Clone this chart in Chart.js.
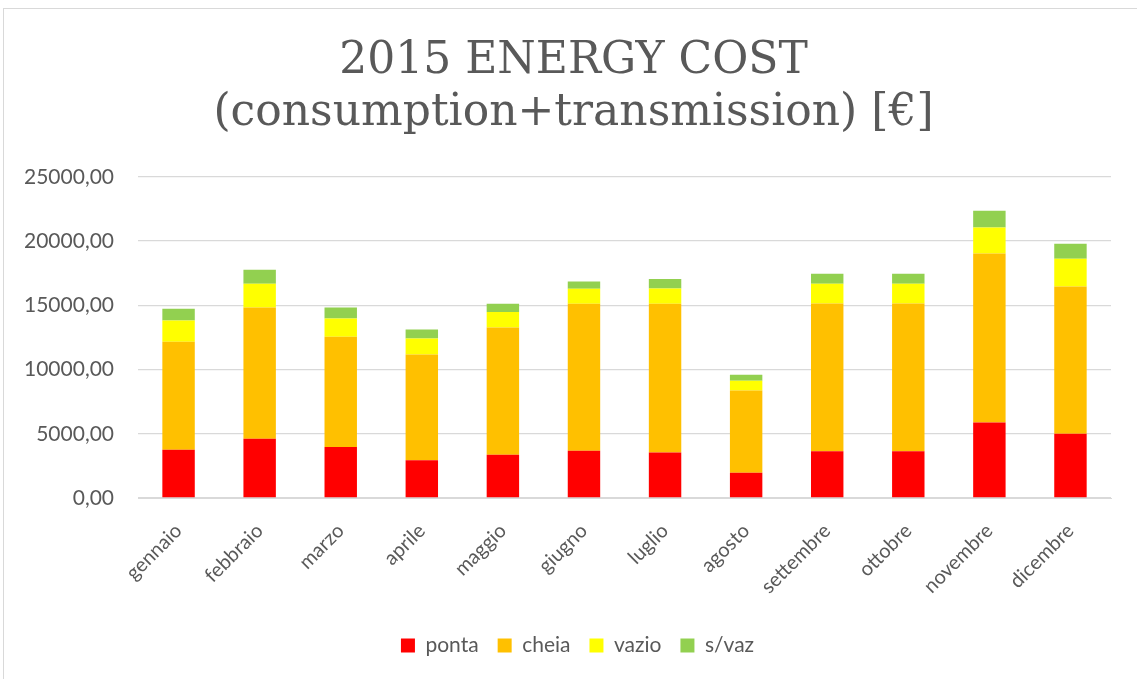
<!DOCTYPE html>
<html>
<head>
<meta charset="utf-8">
<script src="https://cdn.jsdelivr.net/npm/chart.js@4/dist/chart.umd.min.js"></script>
<style>
  html, body { margin: 0; padding: 0; background: #fff; }
  #frame { position: absolute; left: 3px; top: 8px; width: 1140px; height: 680px; border: 1px solid #d9d9d9; box-sizing: border-box; }
  #wrap { position: absolute; left: 0; top: 0; width: 1137px; height: 679px; }
</style>
</head>
<body>
<div id="frame"></div>
<div id="wrap"><canvas id="chart"></canvas></div>
<script>
const MONTHS = ['gennaio', 'febbraio', 'marzo', 'aprile', 'maggio', 'giugno', 'luglio', 'agosto', 'settembre', 'ottobre', 'novembre', 'dicembre'];

// euro per month, one array per tariff band
const PONTA = [3760, 4615, 3970, 2930, 3370, 3680, 3550, 1970, 3630, 3630, 5880, 5000];
const CHEIA = [8405, 10215, 8580, 8250, 9910, 11440, 11570, 6400, 11510, 11510, 13160, 11470];
const VAZIO = [1655, 1850, 1430, 1240, 1190, 1170, 1190, 760, 1540, 1540, 2020, 2150];
const SVAZ = [910, 1090, 850, 700, 650, 570, 730, 470, 780, 780, 1300, 1170];

const Y_MAX = 25000;
const Y_STEP = 5000;

const TEXT_GRAY = '#595959';
const GRID_GRAY = '#d9d9d9';
const SANS = 'Lato, "Noto Sans", sans-serif';

const fmt = v => v.toFixed(2).replace('.', ',');

// excel centres title + legend on the whole frame, not on the plot box: nudge them over
const centreNudge = {
  id: 'centreNudge',
  afterLayout(chart) {
    chart.legend.left += 22;
    chart.legend.right += 22;
    chart.titleBlock.left += 18;
    chart.titleBlock.right += 18;
  }
};

const ctx = document.getElementById('chart');

new Chart(ctx, {
  type: 'bar',
  data: {
    labels: MONTHS,
    datasets: [
      {label: 'ponta', data: PONTA, backgroundColor: '#ff0000'},
      {label: 'cheia', data: CHEIA, backgroundColor: '#ffc000'},
      {label: 'vazio', data: VAZIO, backgroundColor: '#ffff00'},
      {label: 's/vaz', data: SVAZ, backgroundColor: '#92d050'},
    ]
  },
  plugins: [centreNudge],
  options: {
    responsive: true,
    maintainAspectRatio: false,
    animation: false,
    datasets: {bar: {barPercentage: 0.4, categoryPercentage: 1}},
    layout: {padding: {left: 0, right: 26, top: 0, bottom: 13}},
    plugins: {
      title: {
        display: true,
        text: ['2015 ENERGY COST', '(consumption+transmission) [€]'],
        color: TEXT_GRAY,
        font: {family: '"DejaVu Serif", serif', size: 44, weight: 'normal', lineHeight: 1.18},
        padding: {top: 36, bottom: 37}
      },
      legend: {
        position: 'bottom',
        labels: {
          color: TEXT_GRAY,
          font: {family: SANS, size: 21},
          boxWidth: 14,
          boxHeight: 14,
          padding: 19
        }
      },
      tooltip: {enabled: false}
    },
    scales: {
      x: {
        stacked: true,
        grid: {display: false},
        border: {color: GRID_GRAY},
        afterFit: axis => { axis.height = 118; },
        ticks: {
          color: TEXT_GRAY,
          font: {family: SANS, size: 20},
          minRotation: 45,
          maxRotation: 45,
          padding: 13
        }
      },
      y: {
        stacked: true,
        min: 0,
        max: Y_MAX,
        grid: {color: GRID_GRAY, lineWidth: 1.3, drawTicks: false},
        border: {display: false},
        ticks: {
          stepSize: Y_STEP,
          color: TEXT_GRAY,
          font: {family: SANS, size: 21},
          padding: 24,
          callback: v => fmt(v)
        }
      }
    }
  }
});
</script>
</body>
</html>
